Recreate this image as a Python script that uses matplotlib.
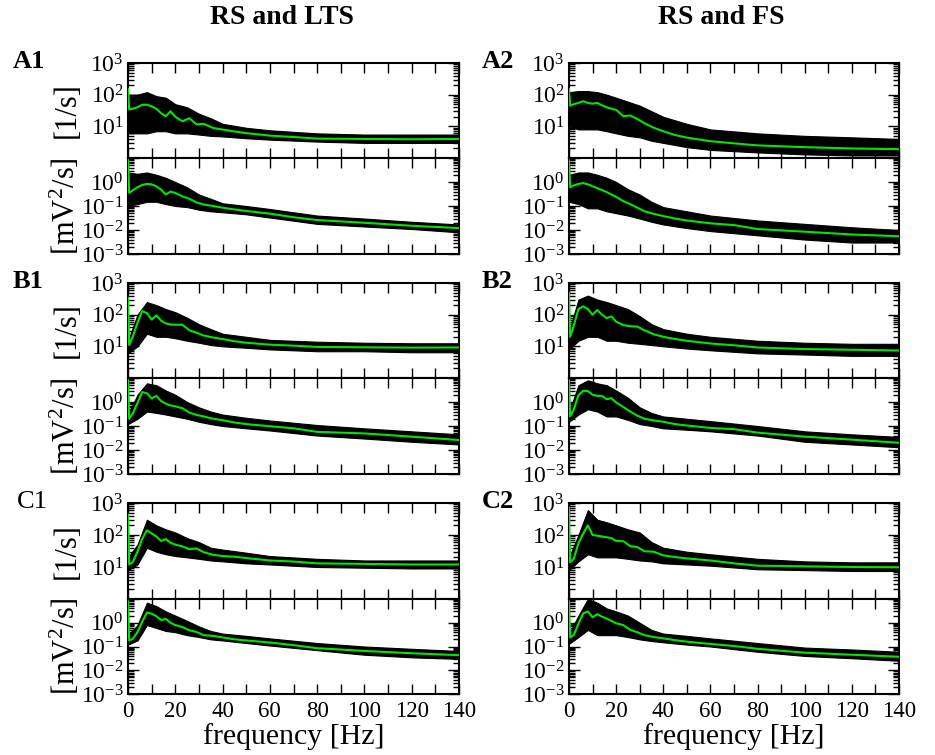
import matplotlib
matplotlib.use("Agg")
import matplotlib.pyplot as plt
from matplotlib.ticker import FixedLocator, FixedFormatter, LogLocator, NullFormatter, MultipleLocator

plt.rcParams['font.family'] = ['Liberation Serif', 'DejaVu Serif']
plt.rcParams['mathtext.fontset'] = 'custom'
plt.rcParams['mathtext.rm'] = 'Liberation Serif'
plt.rcParams['mathtext.it'] = 'Liberation Serif:italic'
plt.rcParams['mathtext.bf'] = 'Liberation Serif:bold'

# ---------------- data ----------------
# smoothed (green) spectra sampled at these frequencies [Hz]
freq = [0, 0.5, 2, 4, 6, 8, 10, 12, 14, 16, 18, 20, 23, 26, 29, 32, 36, 40, 45, 50, 60, 70, 80, 100, 120, 140]

a1_rate = [150, 34, 36, 40, 48, 48, 43, 36, 26, 21, 30, 20, 14.5, 18, 11.5, 12, 8.9, 7.9, 6.9, 6.1, 5.1, 4.6, 4.1, 4.0, 3.9, 4.0]
a1_lfp = [8, 0.35, 0.45, 0.6, 0.75, 0.83, 0.8, 0.66, 0.48, 0.3, 0.4, 0.35, 0.25, 0.2, 0.14, 0.115, 0.1, 0.085, 0.072, 0.062, 0.048, 0.034, 0.026, 0.02, 0.015, 0.012]
a2_rate = [150, 45, 50, 55, 62, 55, 52, 55, 46, 40, 36, 33, 21, 22, 17, 12.5, 9, 7, 5.3, 4.4, 3.4, 2.9, 2.5, 2.2, 2.0, 1.9]
a2_lfp = [8, 0.6, 0.72, 0.83, 0.9, 0.8, 0.66, 0.56, 0.46, 0.38, 0.3, 0.24, 0.16, 0.12, 0.085, 0.06, 0.047, 0.038, 0.03, 0.025, 0.019, 0.016, 0.011, 0.0085, 0.0065, 0.0055]
b1_rate = [340, 11, 20, 55, 130, 112, 70, 95, 65, 53, 49, 48, 48, 32, 27, 22, 19, 17, 14.5, 13, 11.3, 10.5, 9.6, 9.3, 9.1, 9.2]
b1_lfp = [8, 0.2, 0.33, 0.9, 2.6, 2.3, 1.4, 1.8, 1.1, 0.85, 0.72, 0.66, 0.55, 0.36, 0.29, 0.25, 0.2, 0.175, 0.14, 0.12, 0.098, 0.08, 0.057, 0.049, 0.036, 0.026]
b2_rate = [480, 20, 45, 150, 183, 150, 100, 140, 100, 78, 88, 60, 47, 43, 42, 32, 24, 20, 17, 15, 12.3, 10.8, 9.2, 8.2, 7.8, 7.4]
b2_lfp = [8, 0.25, 0.48, 1.9, 2.95, 2.85, 2.0, 1.8, 1.8, 1.3, 1.45, 0.95, 0.62, 0.4, 0.27, 0.2, 0.17, 0.15, 0.12, 0.105, 0.083, 0.074, 0.053, 0.036, 0.027, 0.02]
c1_rate = [430, 12, 14, 30, 75, 140, 112, 90, 65, 75, 57, 50, 44, 36, 38, 29, 24, 22, 21, 19, 16, 14.8, 13, 12.5, 12, 12]
c1_lfp = [8, 0.18, 0.21, 0.4, 1.1, 2.7, 2.4, 1.9, 1.3, 1.45, 1.0, 0.8, 0.66, 0.48, 0.41, 0.3, 0.28, 0.24, 0.2, 0.18, 0.147, 0.114, 0.085, 0.065, 0.052, 0.043]
c2_rate = [700, 14, 18, 55, 110, 200, 100, 95, 90, 85, 80, 65, 64, 45, 42, 31, 30, 23, 20.5, 18.5, 16, 13, 11, 10.5, 10, 9.8]
c2_lfp = [8, 0.24, 0.3, 0.9, 2.5, 3.0, 1.7, 2.3, 1.8, 1.5, 1.2, 0.95, 0.8, 0.5, 0.4, 0.3, 0.25, 0.22, 0.185, 0.16, 0.128, 0.105, 0.08, 0.055, 0.045, 0.037]

# envelope of the raw (black) spectra at these frequencies [Hz]
env_freq = [0, 4, 8, 12, 16, 20, 25, 30, 35, 40, 50, 60, 80, 100, 120, 140]

a1_rate_hi = [100, 100, 120, 90, 80, 50, 40, 25, 18, 12, 9, 7.5, 6, 5.5, 5.5, 5.5]
a1_rate_lo = [6, 6, 6, 7, 7, 6, 6, 5.5, 5, 4.8, 4.2, 3.8, 3.3, 3, 3, 3]
a1_lfp_hi = [2.5, 2.2, 2.5, 2, 1.5, 1, 0.6, 0.3, 0.2, 0.13, 0.1, 0.075, 0.04, 0.03, 0.022, 0.017]
a1_lfp_lo = [0.1, 0.12, 0.15, 0.15, 0.12, 0.1, 0.09, 0.07, 0.06, 0.055, 0.045, 0.033, 0.018, 0.014, 0.011, 0.008]
a2_rate_hi = [120, 130, 130, 120, 100, 80, 60, 45, 30, 20, 12, 8, 6, 5, 4.5, 4]
a2_rate_lo = [10, 8, 8, 8, 7, 6, 5, 4.5, 3.5, 3, 2.2, 1.8, 1.5, 1.3, 1.2, 1.2]
a2_lfp_hi = [2, 2.5, 2.5, 2, 1.5, 1, 0.5, 0.3, 0.15, 0.09, 0.06, 0.04, 0.025, 0.018, 0.013, 0.01]
a2_lfp_lo = [0.15, 0.12, 0.08, 0.08, 0.06, 0.05, 0.04, 0.03, 0.022, 0.017, 0.012, 0.009, 0.006, 0.004, 0.003, 0.003]
b1_rate_hi = [15, 100, 250, 200, 150, 120, 80, 50, 35, 25, 20, 16, 14, 13, 12.5, 12.5]
b1_rate_lo = [6, 10, 25, 20, 20, 18, 15, 13, 11, 10, 9, 8, 7, 7, 6.5, 6.5]
b1_lfp_hi = [0.3, 2, 6, 5, 3, 2, 1, 0.6, 0.4, 0.3, 0.22, 0.17, 0.11, 0.08, 0.06, 0.045]
b1_lfp_lo = [0.12, 0.2, 0.4, 0.35, 0.3, 0.25, 0.2, 0.15, 0.12, 0.1, 0.08, 0.065, 0.04, 0.03, 0.022, 0.017]
b2_rate_hi = [30, 300, 400, 300, 250, 200, 150, 90, 50, 35, 25, 20, 15, 13, 12, 12]
b2_rate_lo = [8, 15, 20, 20, 15, 15, 13, 12, 11, 10, 8.5, 7.5, 6, 5.5, 5, 5]
b2_lfp_hi = [0.4, 5, 8, 6, 5, 3, 1.5, 0.6, 0.35, 0.25, 0.2, 0.16, 0.1, 0.06, 0.045, 0.035]
b2_lfp_lo = [0.15, 0.3, 0.5, 0.4, 0.25, 0.25, 0.18, 0.12, 0.1, 0.08, 0.07, 0.06, 0.04, 0.022, 0.017, 0.013]
c1_rate_hi = [20, 50, 300, 200, 150, 120, 80, 60, 40, 35, 28, 22, 18, 16, 16, 16]
c1_rate_lo = [8, 12, 40, 30, 25, 22, 20, 18, 16, 15, 13, 12, 10, 9.5, 9, 9]
c1_lfp_hi = [0.3, 0.8, 7, 5, 3, 2, 1.2, 0.7, 0.45, 0.35, 0.28, 0.22, 0.14, 0.1, 0.08, 0.065]
c1_lfp_lo = [0.12, 0.18, 0.8, 0.6, 0.45, 0.4, 0.3, 0.25, 0.2, 0.18, 0.14, 0.11, 0.07, 0.045, 0.035, 0.03]
c2_rate_hi = [20, 100, 600, 300, 250, 200, 150, 120, 60, 40, 30, 25, 18, 15, 14, 14]
c2_rate_lo = [8, 15, 25, 20, 20, 20, 18, 16, 15, 13, 12, 11, 8.5, 8, 7.5, 7.5]
c2_lfp_hi = [0.35, 2, 10, 7, 4, 3, 2, 1, 0.5, 0.35, 0.28, 0.22, 0.14, 0.09, 0.075, 0.06]
c2_lfp_lo = [0.13, 0.25, 0.5, 0.3, 0.3, 0.3, 0.25, 0.2, 0.17, 0.15, 0.12, 0.1, 0.06, 0.04, 0.032, 0.025]

column_titles = ["RS and LTS", "RS and FS"]
panel_labels = [["A1", "A2"], ["B1", "B2"], ["C1", "C2"]]
rate_ticks = [1, 10, 100, 1000]
rate_ticklabels = ["", "$10^{1}$", "$10^{2}$", "$10^{3}$"]
lfp_ticks = [1e-3, 1e-2, 1e-1, 1, 10]
lfp_ticklabels = ["$10^{-3}$", "$10^{-2}$", "$10^{-1}$", "$10^{0}$", ""]
x_ticks = [0, 20, 40, 60, 80, 100, 120, 140]

# ---------------- figure ----------------
W, H = 935, 755
fig = plt.figure(figsize=(W / 100, H / 100), dpi=100)

col_x = [(128, 459), (569, 899)]
row_y = [(63, 158, 254), (283, 378, 474), (503, 599, 694)]

rate_series = [[(a1_rate, a1_rate_hi, a1_rate_lo), (a2_rate, a2_rate_hi, a2_rate_lo)],
               [(b1_rate, b1_rate_hi, b1_rate_lo), (b2_rate, b2_rate_hi, b2_rate_lo)],
               [(c1_rate, c1_rate_hi, c1_rate_lo), (c2_rate, c2_rate_hi, c2_rate_lo)]]
lfp_series = [[(a1_lfp, a1_lfp_hi, a1_lfp_lo), (a2_lfp, a2_lfp_hi, a2_lfp_lo)],
              [(b1_lfp, b1_lfp_hi, b1_lfp_lo), (b2_lfp, b2_lfp_hi, b2_lfp_lo)],
              [(c1_lfp, c1_lfp_hi, c1_lfp_lo), (c2_lfp, c2_lfp_hi, c2_lfp_lo)]]

GREEN = "#00e600"


def px_axes(x0, x1, y0, y1):
    return fig.add_axes([x0 / W, 1 - y1 / H, (x1 - x0) / W, (y1 - y0) / H])


def style(ax, ticks, labels, ylim, show_x):
    ax.set_yscale("log")
    ax.set_xlim(0, 140)
    ax.set_ylim(*ylim)
    ax.yaxis.set_major_locator(FixedLocator(ticks))
    ax.yaxis.set_major_formatter(FixedFormatter(labels))
    ax.yaxis.set_minor_locator(LogLocator(base=10, subs=range(2, 10), numticks=20))
    ax.yaxis.set_minor_formatter(NullFormatter())
    ax.xaxis.set_major_locator(FixedLocator(x_ticks))
    ax.xaxis.set_minor_locator(MultipleLocator(10))
    for s in ax.spines.values():
        s.set_linewidth(1.5)
    ax.tick_params(which="both", direction="in", top=True, right=True, width=1.0)
    ax.tick_params(axis="y", which="major", length=8, labelsize=17, pad=3)
    ax.tick_params(axis="y", which="minor", length=4.5)
    ax.tick_params(axis="x", which="both", length=7, labelsize=16.5, pad=5)
    if not show_x:
        ax.tick_params(axis="x", labelbottom=False)


for r in range(3):
    for c in range(2):
        x0, x1 = col_x[c]
        ytop, ymid, ybot = row_y[r]
        ax_r = px_axes(x0, x1, ytop, ymid)
        ax_l = px_axes(x0, x1, ymid, ybot)

        g, hi, lo = rate_series[r][c]
        ax_r.fill_between(env_freq, lo, hi, color="black", lw=0.8, zorder=2)
        ax_r.plot(freq, g, color=GREEN, lw=1.5, zorder=3)
        style(ax_r, rate_ticks, rate_ticklabels, (1, 1000), False)

        g, hi, lo = lfp_series[r][c]
        ax_l.fill_between(env_freq, lo, hi, color="black", lw=0.8, zorder=2)
        ax_l.plot(freq, g, color=GREEN, lw=1.5, zorder=3)
        style(ax_l, lfp_ticks, lfp_ticklabels, (1e-3, 10), r == 2)

        if c == 0:
            fig.text(67 / W, 1 - (ytop + ymid) / 2 / H, "[1/s]", rotation=90,
                     ha="center", va="center", fontsize=22)
            fig.text(65 / W, 1 - (ymid + ybot) / 2 / H, "[mV$^2$/s]", rotation=90,
                     ha="center", va="center", fontsize=22)
        if r == 2:
            ax_l.set_xlabel("frequency [Hz]", fontsize=21.5, labelpad=1)

        lab = panel_labels[r][c]
        lx = [13, 482][c]
        weight = "bold"
        if lab == "C1":
            lx, weight = 17, "normal"
        fig.text(lx / W, 1 - (ytop - 1) / H, lab, ha="left", va="center",
                 fontsize=19, fontweight=weight)

fig.text(282 / W, 1 - 18 / H, column_titles[0], ha="center", va="center",
         fontsize=20, fontweight="bold")
fig.text(721 / W, 1 - 18 / H, column_titles[1], ha="center", va="center",
         fontsize=20, fontweight="bold")

fig.savefig("out.png", dpi=100)
